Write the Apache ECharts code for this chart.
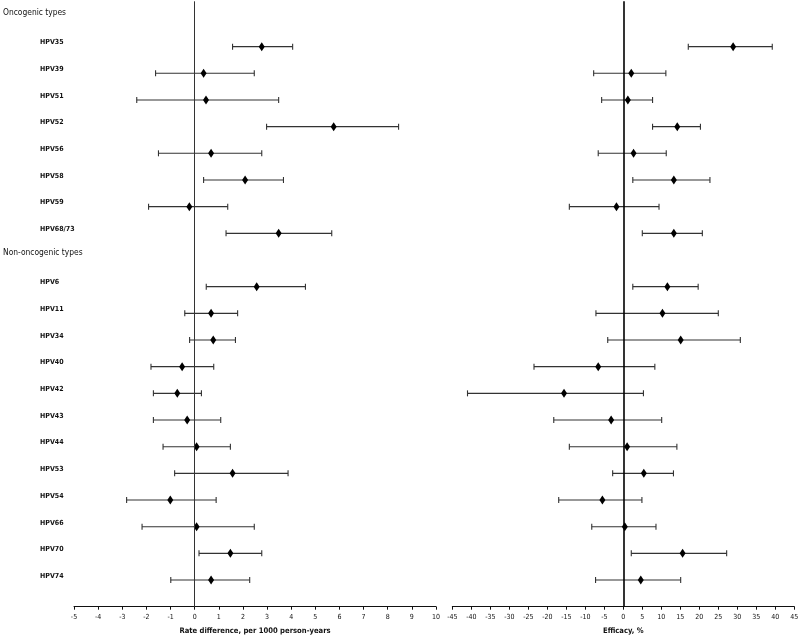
<!DOCTYPE html>
<html>
<head>
<meta charset="utf-8">
<script src="https://cdn.jsdelivr.net/npm/echarts@6/dist/echarts.min.js"></script>
<style>
  html, body { margin: 0; padding: 0; background: #fff; }
  #chart { width: 800px; height: 636px; }
</style>
</head>
<body>
<div id="chart"></div>
<script>
// rows from top, headers included
var rowLabels = ['Oncogenic types', 'HPV35', 'HPV39', 'HPV51', 'HPV52', 'HPV56', 'HPV58', 'HPV59', 'HPV68/73',
    'Non-oncogenic types', 'HPV6', 'HPV11', 'HPV34', 'HPV40', 'HPV42', 'HPV43', 'HPV44', 'HPV53', 'HPV54', 'HPV66', 'HPV70', 'HPV74'];
var headers = ['Oncogenic types', 'Non-oncogenic types'];

var types = ['HPV35', 'HPV39', 'HPV51', 'HPV52', 'HPV56', 'HPV58', 'HPV59', 'HPV68/73',
    'HPV6', 'HPV11', 'HPV34', 'HPV40', 'HPV42', 'HPV43', 'HPV44', 'HPV53', 'HPV54', 'HPV66', 'HPV70', 'HPV74'];

// rate difference, per 1000 person-years
var rateEst = [2.78, 0.37, 0.47, 5.76, 0.68, 2.09, -0.22, 3.48, 2.57, 0.68, 0.77, -0.52, -0.72, -0.31, 0.08, 1.57, -1.01, 0.08, 1.48, 0.68];
var rateLo = [1.57, -1.62, -2.40, 2.98, -1.50, 0.37, -1.91, 1.30, 0.48, -0.41, -0.21, -1.81, -1.71, -1.71, -1.31, -0.83, -2.82, -2.18, 0.18, -0.99];
var rateHi = [4.06, 2.47, 3.48, 8.45, 2.78, 3.68, 1.37, 5.68, 4.59, 1.78, 1.69, 0.79, 0.28, 1.08, 1.48, 3.87, 0.89, 2.47, 2.78, 2.28];

// efficacy, %
var effEst = [28.9, 2.1, 1.2, 14.2, 2.7, 13.3, -1.8, 13.3, 11.6, 10.3, 15.1, -6.6, -15.6, -3.2, 1.0, 5.4, -5.5, 0.4, 15.6, 4.6];
var effLo = [17.1, -7.8, -5.7, 7.7, -6.6, 2.5, -14.2, 5.0, 2.5, -7.2, -4.1, -23.5, -41.0, -18.3, -14.2, -2.8, -17.0, -8.3, 2.1, -7.3];
var effHi = [39.2, 11.2, 7.7, 20.3, 11.3, 22.8, 9.4, 20.8, 19.7, 25.0, 30.8, 8.3, 5.3, 10.1, 14.1, 13.2, 4.9, 8.6, 27.2, 15.1];

var rateTicks = [-5, 10, 1];
var effTicks = [-45, 45, 5];

var labelFont = '"DejaVu Sans Condensed", "DejaVu Sans", sans-serif';

function rowOf(name) {
    return rowLabels.indexOf(name);
}

function barData(lo, hi) {
    return types.map(function(t, i) { return [lo[i], hi[i], rowOf(t)]; });
}

function pointData(est) {
    return types.map(function(t, i) { return [est[i], rowOf(t)]; });
}

function renderBar(params, api) {
    var row = api.value(2);
    var a = api.coord([api.value(0), row]);
    var b = api.coord([api.value(1), row]);
    var style = { stroke: '#333', lineWidth: 1.1 };
    return {
        type: 'group',
        children: [
            { type: 'line', shape: { x1: a[0], y1: a[1], x2: b[0], y2: b[1] }, style: style },
            { type: 'line', shape: { x1: a[0], y1: a[1] - 3, x2: a[0], y2: a[1] + 3 }, style: style },
            { type: 'line', shape: { x1: b[0], y1: b[1] - 3, x2: b[0], y2: b[1] + 3 }, style: style }
        ]
    };
}

function xAxisFor(idx, ticks, name) {
    return {
        gridIndex: idx,
        type: 'value',
        min: ticks[0],
        max: ticks[1],
        interval: ticks[2],
        position: 'bottom',
        splitLine: { show: false },
        axisLine: { onZero: false, lineStyle: { color: '#111', width: 1 } },
        axisTick: { show: true, length: 3, lineStyle: { color: '#111' } },
        axisLabel: { fontSize: 7, color: '#111', margin: 7, fontFamily: labelFont },
        name: name,
        nameLocation: 'middle',
        nameGap: 20,
        nameTextStyle: { fontSize: 7.6, color: '#111', fontFamily: labelFont, fontWeight: 'bold' }
    };
}

function yAxisFor(idx, showLabels) {
    var custom = [];
    for (var i = 0; i < rowLabels.length; i++) custom.push(i);
    return {
        gridIndex: idx,
        type: 'value',
        inverse: true,
        min: -0.7,
        max: 22,
        splitLine: { show: false },
        axisLine: { show: false },
        axisTick: { show: false },
        axisLabel: {
            show: showLabels,
            customValues: custom,
            align: 'left',
            margin: 71,
            formatter: function(v) {
                var name = rowLabels[Math.round(v)] || '';
                return headers.indexOf(name) >= 0 ? '{h|' + name + '}' : '{c|' + name + '}';
            },
            rich: {
                h: { fontSize: 8.4, color: '#111', fontFamily: labelFont, padding: [0, 0, 14, 0] },
                c: { fontSize: 7, color: '#111', fontFamily: labelFont, fontWeight: 'bold', padding: [0, 0, 8, 37] }
            }
        }
    };
}

function zeroLine(width, color) {
    return {
        silent: true,
        symbol: 'none',
        label: { show: false },
        lineStyle: { type: 'solid', color: color, width: width },
        data: [{ xAxis: 0 }]
    };
}

var chart = echarts.init(document.getElementById('chart'));
chart.setOption({
    animation: false,
    backgroundColor: '#fff',
    grid: [
        { left: 74, right: 364, top: 1.3, bottom: 29.3, outerBoundsMode: 'none' },
        { left: 452.3, right: 5.7, top: 1.3, bottom: 29.3, outerBoundsMode: 'none' }
    ],
    xAxis: [
        xAxisFor(0, rateTicks, 'Rate difference, per 1000 person-years'),
        xAxisFor(1, effTicks, 'Efficacy, %')
    ],
    yAxis: [yAxisFor(0, true), yAxisFor(1, false)],
    series: [
        {
            type: 'custom', xAxisIndex: 0, yAxisIndex: 0,
            renderItem: renderBar,
            encode: { x: [0, 1], y: 2 },
            data: barData(rateLo, rateHi),
            markLine: zeroLine(1, '#333')
        },
        {
            type: 'scatter', xAxisIndex: 0, yAxisIndex: 0,
            symbol: 'diamond', symbolSize: [6, 9],
            itemStyle: { color: '#000', opacity: 1 },
            data: pointData(rateEst)
        },
        {
            type: 'custom', xAxisIndex: 1, yAxisIndex: 1,
            renderItem: renderBar,
            encode: { x: [0, 1], y: 2 },
            data: barData(effLo, effHi),
            markLine: zeroLine(1.6, '#000')
        },
        {
            type: 'scatter', xAxisIndex: 1, yAxisIndex: 1,
            symbol: 'diamond', symbolSize: [6, 9],
            itemStyle: { color: '#000', opacity: 1 },
            data: pointData(effEst)
        }
    ]
});
</script>
</body>
</html>
